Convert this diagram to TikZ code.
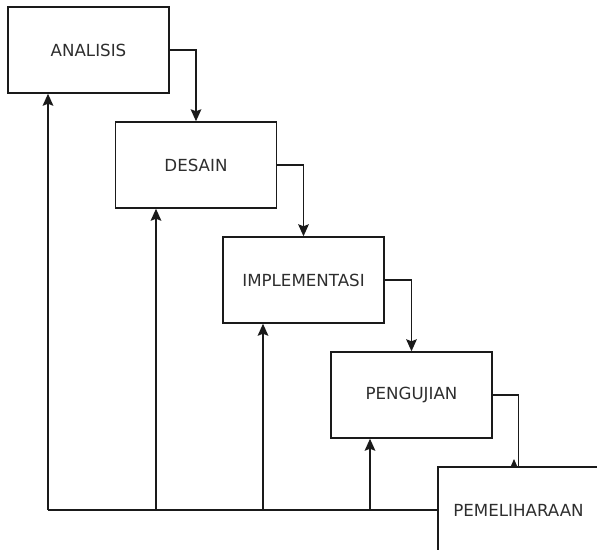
\documentclass[tikz,border=0pt]{standalone}
\usepackage{fontspec}
\setmainfont{DejaVu Sans}
\usetikzlibrary{arrows.meta}
\definecolor{labelgray}{HTML}{2E2E2E}
\definecolor{linegray}{HTML}{1A1A1A}
\begin{document}
\begin{tikzpicture}[x=0.75pt,y=-0.75pt,
  stagebox/.style={draw=linegray, line width=1.1pt, fill=white,
    minimum width=120.75pt, minimum height=64.5pt, inner sep=0pt,
    text=labelgray, font=\fontsize{12.5}{15}\selectfont},
  link/.style={draw=linegray, line width=1.2pt},
  flow/.style={link, -{Stealth[length=9pt,width=8pt,inset=1.5pt]}}]
\useasboundingbox (0,0) rectangle (597,550);

% feedback bus along the bottom
\coordinate (b1) at (48,510);
\coordinate (b2) at (156,510);
\coordinate (b3) at (263,510);
\coordinate (b4) at (370,510);

% stages
\node[stagebox] (ana) at (88.5,50)  {ANALISIS};
\node[stagebox] (des) at (196,165)  {DESAIN};
\node[stagebox] (imp) at (303.5,280) {IMPLEMENTASI};
\node[stagebox] (uji) at (411.5,395) {PENGUJIAN};

% forward flow
\draw[flow] (ana.east) -| (des.north);
\draw[flow] (des.east) -| (imp.north);
\draw[flow] (imp.east) -| (uji.north);
\draw[link] (uji.east) -| (518.5,467);

% feedback lines
\draw[link] (b1) -- (438,510);
\draw[flow] (b1) -- (b1 |- ana.south);
\draw[flow] (b2) -- (b2 |- des.south);
\draw[flow] (b3) -- (b3 |- imp.south);
\draw[flow] (b4) -- (b4 |- uji.south);

% last stage, partly outside the page
\node[stagebox] (pem) at (518.5,510) {PEMELIHARAAN};
\fill[linegray] (514,459) -- (517.5,467) -- (510.5,467) -- cycle;
\end{tikzpicture}
\end{document}
